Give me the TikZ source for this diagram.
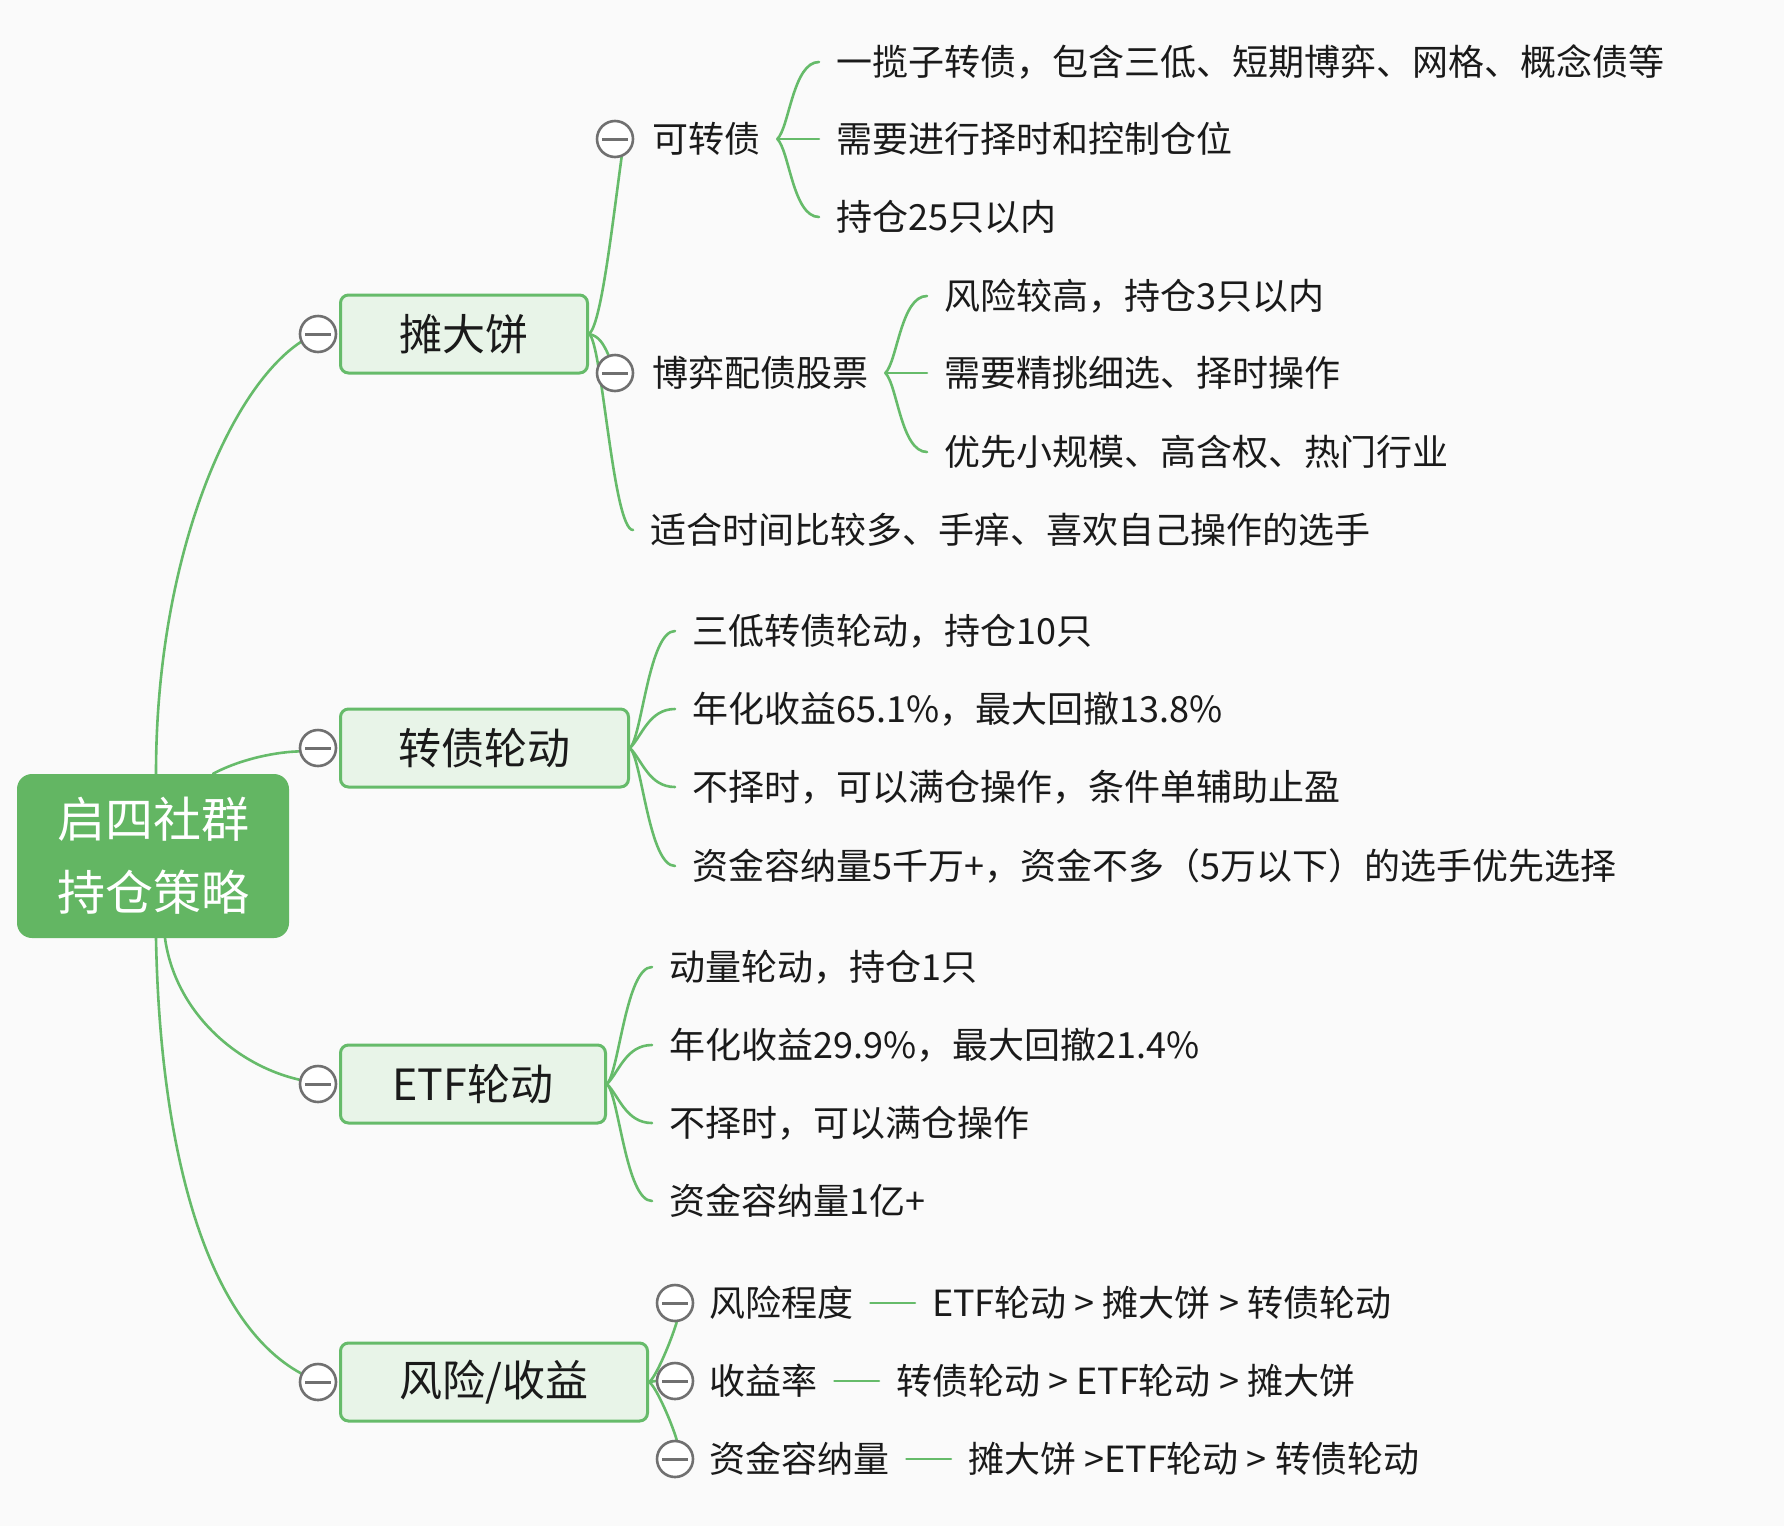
\documentclass[tikz,border=0pt]{standalone}
\usepackage{fontspec}
\setmainfont{Noto Sans CJK SC}
\usetikzlibrary{calc}
\definecolor{lineg}{HTML}{66BB6A}
\definecolor{rootg}{HTML}{63B663}
\definecolor{boxg}{HTML}{E8F4E8}
\definecolor{foldgray}{HTML}{707070}
\definecolor{bgc}{HTML}{FAFAFA}
\definecolor{txt}{HTML}{1A1A1A}
\pgfdeclarelayer{bg}
\pgfsetlayers{bg,main}
\tikzset{
  conn/.style={draw=lineg, line width=2.6pt, line cap=round},
  rootbox/.style={rectangle, rounded corners=15pt, fill=rootg, text=white, minimum width=272pt, minimum height=164pt, align=center, inner sep=0pt, font=\fontsize{48}{73}\selectfont},
  topicbox/.style={rectangle, rounded corners=8pt, draw=lineg, line width=3pt, fill=boxg, minimum height=78pt, anchor=west, font=\fontsize{43}{50}\selectfont, text=txt},
  foldc/.style={circle, draw=foldgray, line width=2.6pt, fill=white, minimum size=36pt, inner sep=0pt,
    path picture={\draw[foldgray, line width=3pt] ([xshift=-13pt]path picture bounding box.center) -- ([xshift=13pt]path picture bounding box.center);}},
  lf/.style={anchor=west, inner xsep=17pt, inner ysep=0pt, font=\fontsize{36}{43}\selectfont, text=txt},
}
\begin{document}
\begin{tikzpicture}[x=1pt,y=-1pt]
\useasboundingbox (0,0) rectangle (1784,1526);
% root and main topics
\node[rootbox] (root) at (153,856) {启四社群\\持仓策略};
\node[topicbox, minimum width=247pt] (tdb) at (339,334) {摊大饼};
\node[topicbox, minimum width=288pt] (zzld) at (339,748) {转债轮动};
\node[topicbox, minimum width=265pt] (etf) at (339,1084) {ETF轮动};
\node[topicbox, minimum width=307pt] (fx) at (339,1382) {风险/收益};
\node[foldc] (ctdb) at (318,334) {};
\node[foldc] (czz) at (318,748) {};
\node[foldc] (cetf) at (318,1084) {};
\node[foldc] (cfx) at (318,1382) {};
% 摊大饼 subtree
\node[foldc] (ckzz) at (615,139) {};
\node[lf] (kzz) at (635,139) {可转债};
\node[lf] (k1) at (819,62) {一揽子转债，包含三低、短期博弈、网格、概念债等};
\node[lf] (k2) at (819,139) {需要进行择时和控制仓位};
\node[lf] (k3) at (819,217) {持仓25只以内};
\node[foldc] (cbo) at (615,373) {};
\node[lf] (bo) at (635,373) {博弈配债股票};
\node[lf] (b1) at (927,296) {风险较高，持仓3只以内};
\node[lf] (b2) at (927,373) {需要精挑细选、择时操作};
\node[lf] (b3) at (927,452) {优先小规模、高含权、热门行业};
\node[lf] (fit) at (633,530) {适合时间比较多、手痒、喜欢自己操作的选手};
% 转债轮动 subtree
\node[lf] (z1) at (675,631) {三低转债轮动，持仓10只};
\node[lf] (z2) at (675,709) {年化收益65.1\%，最大回撤13.8\%};
\node[lf] (z3) at (675,787) {不择时，可以满仓操作，条件单辅助止盈};
\node[lf] (z4) at (675,866) {资金容纳量5千万+，资金不多（5万以下）的选手优先选择};
% ETF subtree
\node[lf] (e1) at (652,967) {动量轮动，持仓1只};
\node[lf] (e2) at (652,1045) {年化收益29.9\%，最大回撤21.4\%};
\node[lf] (e3) at (652,1123) {不择时，可以满仓操作};
\node[lf] (e4) at (652,1201) {资金容纳量1亿+};
% 风险/收益 subtree
\node[foldc] (cf1) at (675,1303) {};
\node[foldc] (cf2) at (675,1381) {};
\node[foldc] (cf3) at (675,1459) {};
\node[lf] (f1) at (692,1303) {风险程度};
\node[lf] (f2) at (692,1381) {收益率};
\node[lf] (f3) at (692,1459) {资金容纳量};
\node[lf] (f1v) at (915,1303) {ETF轮动 > 摊大饼 > 转债轮动};
\node[lf] (f2v) at (879,1381) {转债轮动 > ETF轮动 > 摊大饼};
\node[lf] (f3v) at (951,1459) {摊大饼 >ETF轮动 > 转债轮动};

\begin{pgfonlayer}{bg}
\fill[bgc] (0,0) rectangle (1784,1526);
% root connectors
\draw[conn] ([xshift=3pt]root.north) .. controls +(0,-214) and +(-72,48) .. (ctdb.205);
\draw[conn] ([xshift=60pt]root.north) .. controls +(22,-12) and +(-30,1) .. (czz.190);
\draw[conn] ([xshift=12pt]root.south) .. controls +(10,72) and +(-65,-15) .. (cetf.167);
\draw[conn] ([xshift=3pt]root.south) .. controls +(4,212) and +(-95,-52) .. (cfx.153);
% 摊大饼
\draw[conn] (tdb.east) .. controls +(12,-9) and +(-10,73) .. (ckzz.290);
\draw[conn] (tdb.east) .. controls +(10,2) and +(-5,-11) .. (cbo.110);
\draw[conn] (tdb.east) .. controls +(13,7) and +(-20,0) .. (fit.west);
\draw[conn] (kzz.east) .. controls +(12,-12) and +(-26,0) .. (k1.west);
\draw[conn] (kzz.east) -- (k2.west);
\draw[conn] (kzz.east) .. controls +(12,12) and +(-26,0) .. (k3.west);
\draw[conn] (bo.east) .. controls +(12,-12) and +(-26,0) .. (b1.west);
\draw[conn] (bo.east) -- (b2.west);
\draw[conn] (bo.east) .. controls +(12,12) and +(-26,0) .. (b3.west);
% 转债轮动
\draw[conn] (zzld.east) .. controls +(12,-12) and +(-26,0) .. (z1.west);
\draw[conn] (zzld.east) .. controls +(12,-12) and +(-26,0) .. (z2.west);
\draw[conn] (zzld.east) .. controls +(12,12) and +(-26,0) .. (z3.west);
\draw[conn] (zzld.east) .. controls +(12,12) and +(-26,0) .. (z4.west);
% ETF
\draw[conn] (etf.east) .. controls +(12,-12) and +(-26,0) .. (e1.west);
\draw[conn] (etf.east) .. controls +(12,-12) and +(-26,0) .. (e2.west);
\draw[conn] (etf.east) .. controls +(12,12) and +(-26,0) .. (e3.west);
\draw[conn] (etf.east) .. controls +(12,12) and +(-26,0) .. (e4.west);
% 风险/收益
\draw[conn] (fx.east) .. controls +(6,-3) and +(-6,20) .. (cf1.275);
\draw[conn] (fx.east) -- (cf2.west);
\draw[conn] (fx.east) .. controls +(6,3) and +(-6,-20) .. (cf3.85);
\draw[conn] (f1.east) -- (f1v.west);
\draw[conn] (f2.east) -- (f2v.west);
\draw[conn] (f3.east) -- (f3v.west);
\end{pgfonlayer}
\end{tikzpicture}
\end{document}
